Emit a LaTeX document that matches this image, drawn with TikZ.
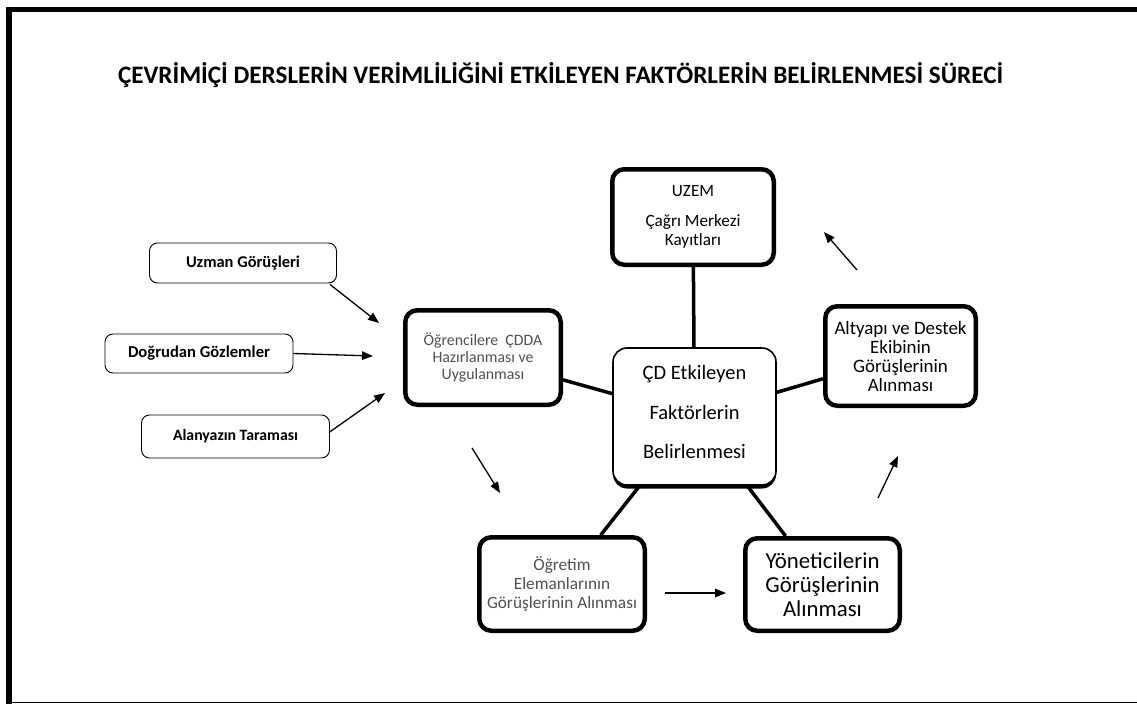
\documentclass[tikz,border=0pt]{standalone}
\usepackage{fontspec}
\setmainfont{Carlito}
\usetikzlibrary{arrows.meta,shadows}
\definecolor{txtgray}{HTML}{505050}
\newlength\fitlen
% #1 macro to define, #2 target width (px), #3 font switch, #4 sample text
\newcommand\fitsize[4]{%
  \settowidth\fitlen{#3\fontsize{10}{12}\selectfont #4}%
  \pgfmathsetmacro#1{10*#2/\fitlen}}
\begin{document}
\fitsize\fsTitle{885}{\bfseries}{ÇEVRİMİÇİ DERSLERİN VERİMLİLİĞİNİ ETKİLEYEN FAKTÖRLERİN BELİRLENMESİ SÜRECİ}%
\fitsize\fsUzman{114}{\bfseries}{Uzman Görüşleri}%
\fitsize\fsDogru{142}{\bfseries}{Doğrudan Gözlemler}%
\fitsize\fsAlan{125}{\bfseries}{Alanyazın Taraması}%
\fitsize\fsOgr{101}{}{Hazırlanması ve}%
\fitsize\fsCtr{90}{}{Faktörlerin}%
\fitsize\fsUzem{95}{}{Çağrı Merkezi}%
\fitsize\fsAlt{132}{}{Altyapı ve Destek}%
\fitsize\fsOgrt{150}{}{Görüşlerinin Alınması}%
\fitsize\fsYon{114}{}{Yöneticilerin}%
\begin{tikzpicture}[x=1pt,y=-1pt,
  thinbox/.style={draw, rounded corners=8, line width=0.9, align=center, inner sep=0},
  thickbox/.style={draw, rounded corners=12, line width=4.5, align=center, inner sep=0, fill=white},
  link/.style={line width=3.5},
  arr/.style={line width=1.3, -{Triangle[length=11pt,width=8.5pt]}}
]
\useasboundingbox (0,0) rectangle (1137,704);
\fill[white] (0,0) rectangle (1137,704);
% frame
\draw[line width=5.5] (9,704) -- (9,9.5) -- (1137,9.5);
\draw[line width=1] (9,702.5) -- (1137,702.5);
% title
\node[font=\bfseries\fontsize{\fsTitle}{22}\selectfont] (title) at (560.5,75) {ÇEVRİMİÇİ DERSLERİN VERİMLİLİĞİNİ ETKİLEYEN FAKTÖRLERİN BELİRLENMESİ SÜRECİ};
% left source boxes
\node[thinbox, minimum width=187, minimum height=40,
  font=\bfseries\fontsize{\fsUzman}{15}\selectfont] (uzman) at (243,263) {Uzman Görüşleri};
\node[thinbox, minimum width=188, minimum height=39,
  font=\bfseries\fontsize{\fsDogru}{15}\selectfont] (dogru) at (199,353.5) {Doğrudan Gözlemler};
\node[thinbox, minimum width=188, minimum height=43,
  font=\bfseries\fontsize{\fsAlan}{15}\selectfont] (alan) at (235.5,436.5) {Alanyazın Taraması};
% main boxes
\node[thickbox, minimum width=155.5, minimum height=94.5, text=txtgray,
  font=\fontsize{\fsOgr}{17}\selectfont] (ogr) at (483,357.5) {Öğrencilere\ \ ÇDDA\\Hazırlanması ve\\Uygulanması};
\node[draw, rounded corners=14, line width=1.6, fill=white, inner sep=0,
  minimum width=163, minimum height=137,
  drop shadow={shadow xshift=0pt, shadow yshift=-3.5pt, fill=black, opacity=1}] (ctr) at (694.5,416.5) {};
\node[align=center, inner sep=0, font=\fontsize{\fsCtr}{39.5}\selectfont] (ctrtext)
  at ([yshift=4.5pt]ctr.center) {ÇD Etkileyen\\Faktörlerin\\Belirlenmesi};
\node[thickbox, minimum width=161.5, minimum height=95.5,
  font=\fontsize{\fsUzem}{19}\selectfont] (uzem) at (693,217) {UZEM\\[11pt]Çağrı Merkezi\\Kayıtları};
\node[thickbox, minimum width=150.5, minimum height=99.5,
  font=\fontsize{\fsAlt}{19}\selectfont] (alt) at (900.5,356) {Altyapı ve Destek\\Ekibinin\\Görüşlerinin\\Alınması};
\node[thickbox, minimum width=165.5, minimum height=93.5, text=txtgray,
  font=\fontsize{\fsOgrt}{19}\selectfont] (ogrt) at (562,584) {Öğretim\\Elemanlarının\\Görüşlerinin Alınması};
\node[thickbox, minimum width=154.5, minimum height=92.5,
  font=\fontsize{\fsYon}{24}\selectfont] (yon) at (822.5,584.5) {Yöneticilerin\\Görüşlerinin\\Alınması};
% links
\draw[link] (ogr) -- (ctr);
\draw[link] (ctr) -- (uzem);
\draw[link] (ctr) -- (alt);
\draw[link] (ctr) -- (ogrt);
\draw[link] (ctr) -- (yon);
% free arrow ends
\coordinate (a1) at (379,323);
\coordinate (a2) at (373,356);
\coordinate (a3) at (385,393);
\coordinate (b1s) at (472,448);
\coordinate (b1e) at (500,493);
\coordinate (b2s) at (665,593);
\coordinate (b2e) at (726,593);
\coordinate (b3s) at (878,498);
\coordinate (b3e) at (898,456);
\coordinate (b4s) at (857,270);
\coordinate (b4e) at (824,232);
\draw[arr] (uzman.south east) ++(-7,1) -- (a1);
\draw[arr] (dogru.east) -- (a2);
\draw[arr] (alan.east) ++(-1,-4) -- (a3);
\draw[arr] (b1s) -- (b1e);
\draw[arr] (b2s) -- (b2e);
\draw[arr] (b3s) -- (b3e);
\draw[arr] (b4s) -- (b4e);
\end{tikzpicture}
\end{document}
